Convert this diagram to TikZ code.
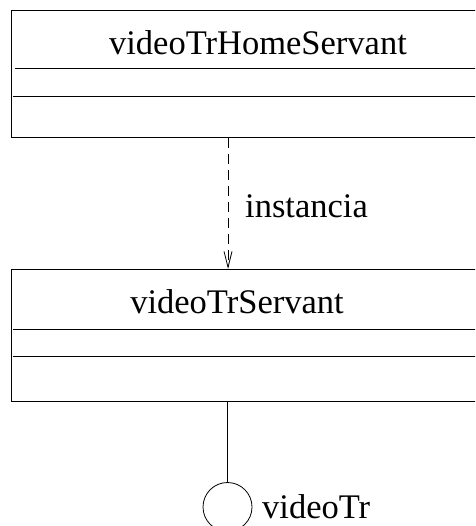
\documentclass[tikz,border=0pt]{standalone}
\usepackage{fontspec}
\setmainfont{Liberation Serif}
\usetikzlibrary{arrows.meta,calc}
\begin{document}
\begin{tikzpicture}[x=1pt,y=-1pt,
  classbox/.style={draw, line width=0.9pt, rectangle, inner sep=0pt, minimum width=484pt, anchor=north west},
  divider/.style={line width=0.9pt},
  lbl/.style={font=\fontsize{34.5}{40}\selectfont, inner sep=0pt},
  dep/.style={line width=0.8pt, dash pattern=on 10pt off 6pt, -{Straight Barb[length=16pt,width=8pt,line width=0.8pt]}},
  link/.style={line width=0.8pt},
  iface/.style={draw, circle, line width=0.8pt, minimum size=49pt, inner sep=0pt}]
  \useasboundingbox (0,0) rectangle (475,526);
  \clip (0,0) rectangle (475,526);

  % upper class: home servant
  \node[classbox, minimum height=127pt] (home) at (11,10) {};
  \draw[divider] (15,68) -- (home.east |- 0,68);
  \draw[divider] (13,96) -- (home.east |- 0,96);
  \node[lbl, anchor=base] (homename) at (258,55) {videoTrHomeServant};

  % lower class: servant
  \node[classbox, minimum height=132pt] (serv) at (11,269) {};
  \draw[divider] (13,329) -- (serv.east |- 0,329);
  \draw[divider] (13,356) -- (serv.east |- 0,356);
  \node[lbl, anchor=base] (servname) at (237,313) {videoTrServant};

  % provided interface
  \node[iface] (itf) at (227.5,507) {};
  \node[lbl, anchor=base west] (itfname) at (262,518) {videoTr};

  % instantiation dependency
  \coordinate (ax) at (228,0);
  \draw[dep] (home.south -| ax) -- (serv.north -| ax);
  \node[lbl, anchor=base west] (inst) at (245,218) {instancia};

  % realisation link to the interface
  \draw[link] (serv.south -| itf) -- (itf.north);
\end{tikzpicture}
\end{document}
